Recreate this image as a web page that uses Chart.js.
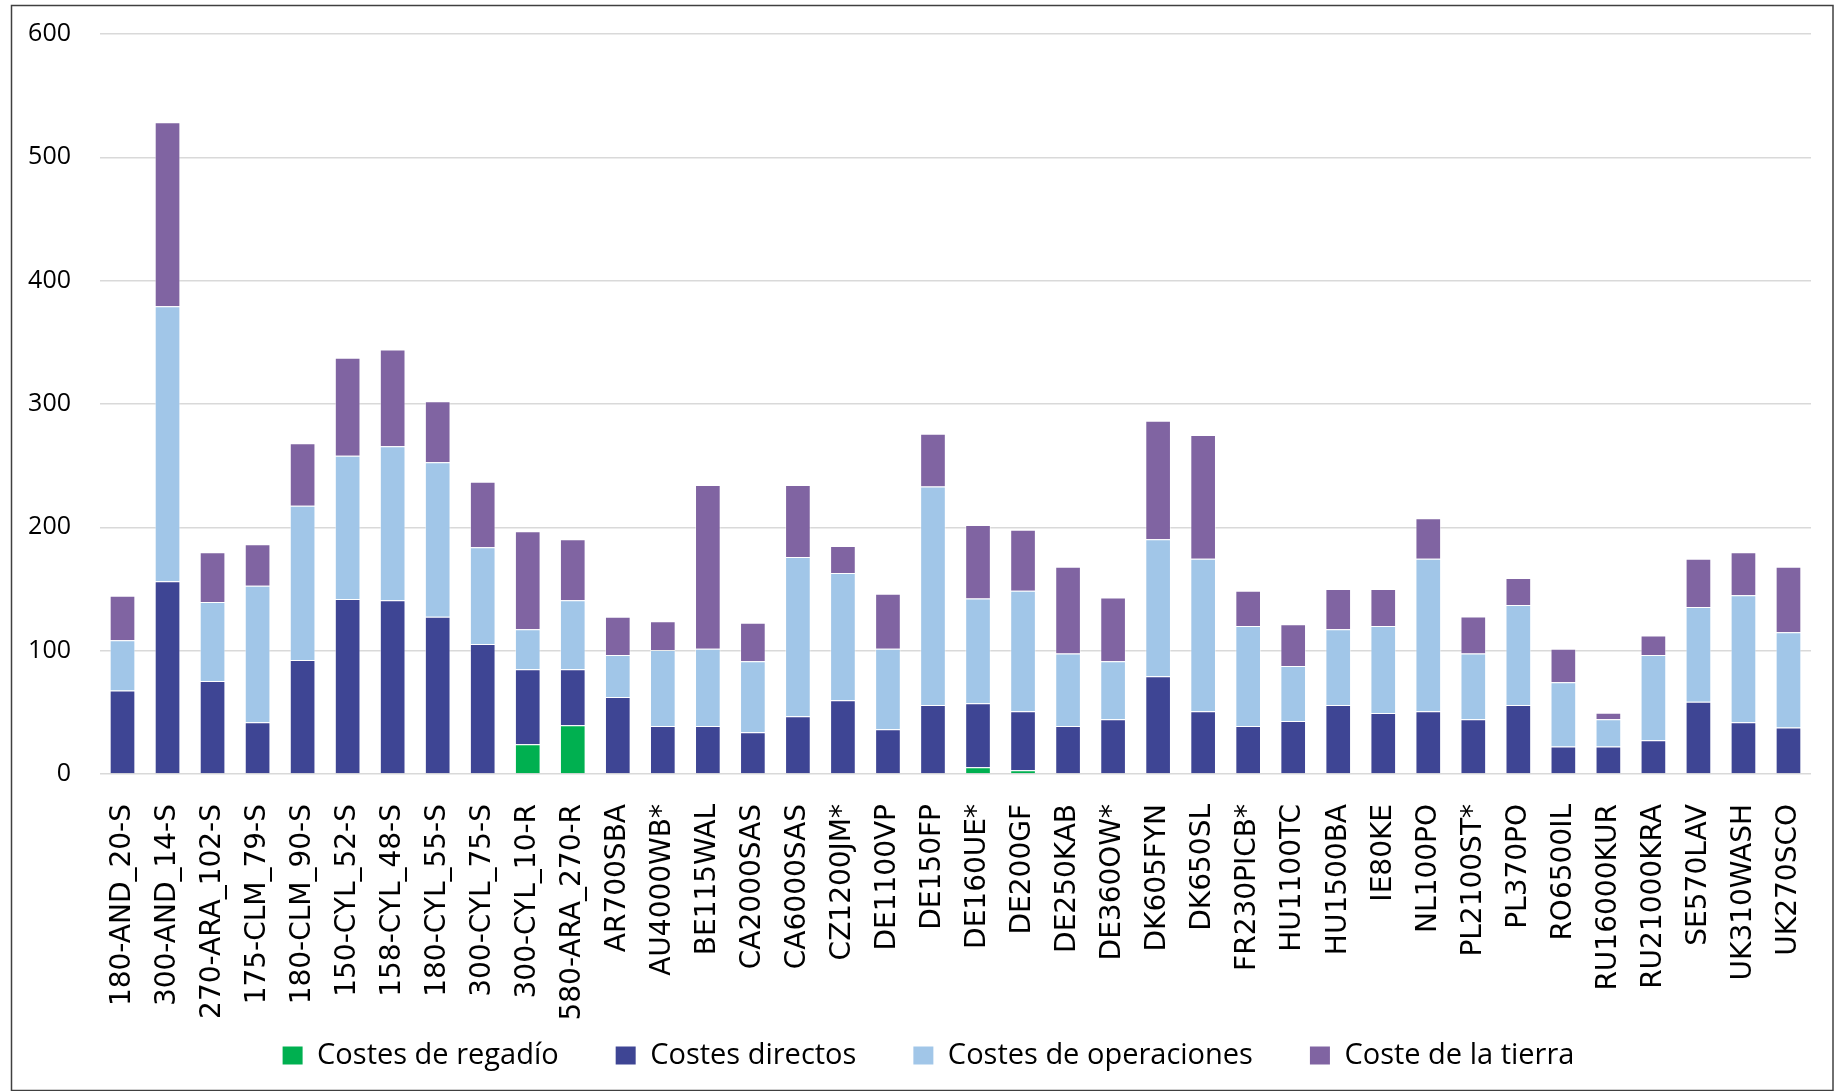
<!DOCTYPE html>
<html>
<head>
<meta charset="utf-8">
<script src="https://cdn.jsdelivr.net/npm/chart.js@4"></script>
<style>
  html, body { margin: 0; padding: 0; background: #fff; }
  #wrap { position: relative; width: 1836px; height: 1091px; }
</style>
</head>
<body>
<div id="wrap"><canvas id="costChart" width="1836" height="1091"></canvas></div>
<script>
const categories = [
    '180-AND_20-S', '300-AND_14-S', '270-ARA_102-S', '175-CLM_79-S', '180-CLM_90-S',
    '150-CYL_52-S', '158-CYL_48-S', '180-CYL_55-S', '300-CYL_75-S', '300-CYL_10-R',
    '580-ARA_270-R', 'AR700SBA', 'AU4000WB*', 'BE115WAL', 'CA2000SAS', 'CA6000SAS',
    'CZ1200JM*', 'DE1100VP', 'DE150FP', 'DE160UE*', 'DE200GF', 'DE250KAB', 'DE360OW*',
    'DK605FYN', 'DK650SL', 'FR230PICB*', 'HU1100TC', 'HU1500BA', 'IE80KE', 'NL100PO',
    'PL2100ST*', 'PL370PO', 'RO6500IL', 'RU16000KUR', 'RU21000KRA', 'SE570LAV',
    'UK310WASH', 'UK270SCO'
];

// stacked segments (bottom to top)
const costesRegadio = [
    0, 0, 0, 0, 0, 0, 0, 0, 0, 24.1,
    39.5, 0, 0, 0, 0, 0, 0, 0, 0, 5.4,
    3.0, 0, 0, 0, 0, 0, 0, 0, 0, 0,
    0, 0, 0, 0, 0, 0, 0, 0
];
const costesDirectos = [
    67.8, 156.2, 75.4, 41.9, 92.4, 141.9, 140.8, 127.6, 105.4, 60.8,
    45.4, 62.4, 38.9, 38.9, 33.8, 46.8, 59.7, 36.2, 55.9, 51.9,
    47.8, 38.9, 44.3, 79.2, 50.8, 38.9, 43.0, 55.9, 49.5, 50.8,
    44.3, 55.9, 22.2, 22.2, 27.3, 58.6, 41.9, 37.8
];
const costesOperaciones = [
    40.6, 223.1, 64.1, 110.8, 125.2, 116.2, 124.9, 125.1, 78.4, 32.4,
    55.9, 34.1, 61.6, 62.7, 57.6, 129.1, 103.3, 65.4, 177.3, 84.9,
    97.8, 58.9, 47.1, 111.1, 123.8, 81.1, 44.6, 61.4, 70.5, 123.8,
    53.5, 81.1, 52.1, 22.1, 69.2, 76.8, 103.0, 77.1
];
const costeTierra = [
    36.2, 149.2, 40.2, 33.5, 50.5, 79.3, 78.5, 49.5, 53.2, 79.5,
    49.5, 31.1, 23.3, 132.7, 31.3, 58.4, 21.9, 44.6, 42.7, 59.7,
    49.5, 70.3, 51.8, 96.2, 100.3, 28.6, 33.8, 32.7, 30.0, 32.7,
    30.0, 21.9, 27.3, 5.4, 15.7, 39.2, 34.8, 53.2
];

const yTicks = [0, 100, 200, 300, 400, 500, 600];

const framePlugin = {
    id: 'frame',
    afterLayout(chart) {
        // move the legend row up, just under the rotated labels
        const lg = chart.legend;
        lg.top = 984;
        lg.bottom = 1091;
        lg.height = 107;
        lg.left += 18;
        lg.right += 18;
    },
    afterDraw(chart) {
        // outer frame like the spreadsheet chart area
        const ctx = chart.ctx;
        ctx.save();
        ctx.strokeStyle = '#404040';
        ctx.lineWidth = 1.5;
        ctx.strokeRect(11.5, 5.5, 1821.5, 1085);
        ctx.restore();
    }
};

const ctx = document.getElementById('costChart').getContext('2d');

new Chart(ctx, {
    type: 'bar',
    data: {
        labels: categories,
        datasets: [
            { label: 'Costes de regadío', data: costesRegadio, backgroundColor: '#00B050' },
            { label: 'Costes directos', data: costesDirectos, backgroundColor: '#3E4594' },
            { label: 'Costes de operaciones', data: costesOperaciones, backgroundColor: '#A1C6E8' },
            { label: 'Coste de la tierra', data: costeTierra, backgroundColor: '#8064A2' }
        ]
    },
    options: {
        responsive: false,
        animation: false,
        devicePixelRatio: 1,
        datasets: {
            bar: {
                barPercentage: 0.57,
                categoryPercentage: 1.0,
                borderWidth: 1,
                borderColor: 'rgba(255, 255, 255, 0.45)'
            }
        },
        layout: {
            padding: { top: 34, left: 10, right: 25, bottom: 0 }
        },
        plugins: {
            tooltip: { enabled: false },
            legend: {
                position: 'bottom',
                maxHeight: 67,
                labels: {
                    boxWidth: 20,
                    boxHeight: 18,
                    padding: 57,
                    color: '#000',
                    font: { family: 'Open Sans', size: 29 },
                    generateLabels: chart => Chart.defaults.plugins.legend.labels.generateLabels(chart)
                        .map(l => ({ ...l, lineWidth: 0 }))
                }
            }
        },
        scales: {
            x: {
                stacked: true,
                grid: { display: false },
                border: { display: false },
                ticks: {
                    autoSkip: false,
                    maxRotation: 90,
                    minRotation: 90,
                    padding: 22,
                    color: '#000',
                    font: { family: 'DejaVu Sans', size: 28 }
                },
                afterFit: s => {
                    s.height = 250;
                    s.paddingLeft = 0;
                    s.paddingRight = 0;
                }
            },
            y: {
                stacked: true,
                min: 0,
                max: 600,
                afterBuildTicks: s => { s.ticks = yTicks.map(v => ({ value: v })); },
                grid: { color: '#D9D9D9', lineWidth: 1.5, drawTicks: false },
                border: { display: false },
                ticks: {
                    padding: 29,
                    color: '#000',
                    font: { family: 'Open Sans', size: 25 }
                },
                afterFit: s => {
                    s.width = 90;
                    s.paddingTop = 0;
                    s.paddingBottom = 0;
                }
            }
        }
    },
    plugins: [framePlugin]
});
</script>
</body>
</html>
